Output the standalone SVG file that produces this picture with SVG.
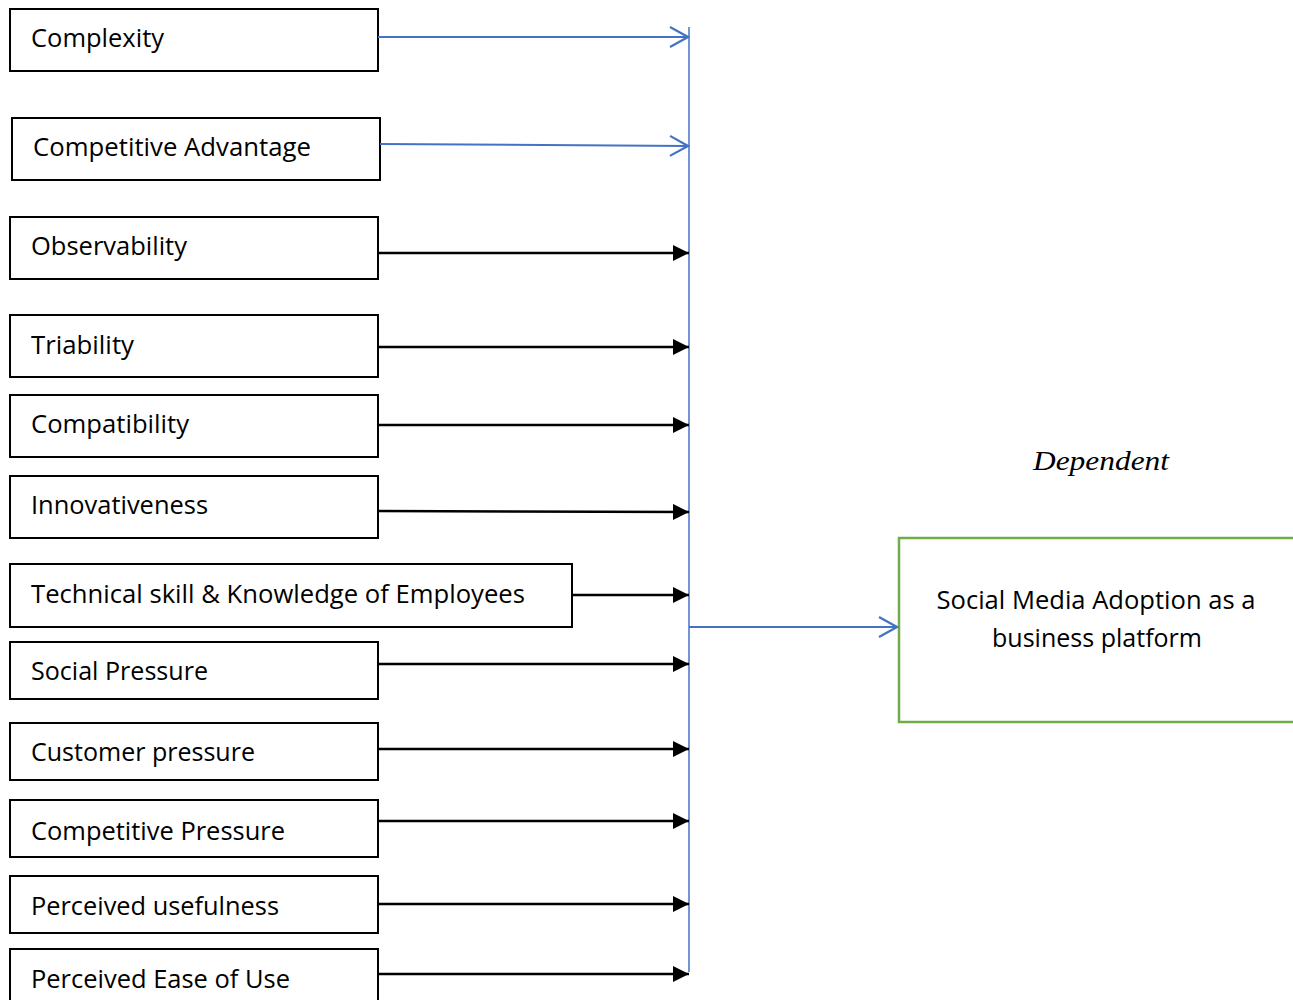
<svg xmlns="http://www.w3.org/2000/svg" width="1293" height="1000" viewBox="0 0 1293 1000">
<style>
.box{fill:#fff;stroke:#000;stroke-width:2}
.lbl{font-family:"Open Sans","Liberation Sans",sans-serif;font-size:25px;fill:#000}
.blk{stroke:#000;stroke-width:2.5;fill:none}
.blu{stroke:#4472C4;stroke-width:2;fill:none}
</style>
<defs>
<marker id="fa" markerUnits="userSpaceOnUse" markerWidth="16" markerHeight="16" refX="16" refY="8" orient="auto" viewBox="0 0 16 16">
<path d="M0,0 L16,8 L0,16 Z" fill="#000"/>
</marker>
<marker id="oa" markerUnits="userSpaceOnUse" markerWidth="22" markerHeight="24" refX="20" refY="12" orient="auto" viewBox="0 0 22 24">
<path d="M2,2 L20,12 L2,22" fill="none" stroke="#4472C4" stroke-width="2.2"/>
</marker>
</defs>
<rect width="1293" height="1000" fill="#fff"/>
<g id="n1"><rect class="box" x="10" y="9" width="368" height="62"/><text class="lbl" x="31" y="47" textLength="133" lengthAdjust="spacingAndGlyphs">Complexity</text></g>
<g id="n2"><rect class="box" x="12" y="118" width="368" height="62"/><text class="lbl" x="33" y="156" textLength="278" lengthAdjust="spacingAndGlyphs">Competitive Advantage</text></g>
<g id="n3"><rect class="box" x="10" y="217" width="368" height="62"/><text class="lbl" x="31" y="255" textLength="156" lengthAdjust="spacingAndGlyphs">Observability</text></g>
<g id="n4"><rect class="box" x="10" y="315" width="368" height="62"/><text class="lbl" x="31" y="354" textLength="103" lengthAdjust="spacingAndGlyphs">Triability</text></g>
<g id="n5"><rect class="box" x="10" y="395" width="368" height="62"/><text class="lbl" x="31" y="433" textLength="158" lengthAdjust="spacingAndGlyphs">Compatibility</text></g>
<g id="n6"><rect class="box" x="10" y="476" width="368" height="62"/><text class="lbl" x="31" y="514" textLength="177" lengthAdjust="spacingAndGlyphs">Innovativeness</text></g>
<g id="n7"><rect class="box" x="10" y="564" width="562" height="63"/><text class="lbl" x="31" y="603" textLength="494" lengthAdjust="spacingAndGlyphs">Technical skill &amp; Knowledge of Employees</text></g>
<g id="n8"><rect class="box" x="10" y="642" width="368" height="57"/><text class="lbl" x="31" y="680" textLength="177" lengthAdjust="spacingAndGlyphs">Social Pressure</text></g>
<g id="n9"><rect class="box" x="10" y="723" width="368" height="57"/><text class="lbl" x="31" y="761" textLength="224" lengthAdjust="spacingAndGlyphs">Customer pressure</text></g>
<g id="n10"><rect class="box" x="10" y="800" width="368" height="57"/><text class="lbl" x="31" y="840" textLength="254" lengthAdjust="spacingAndGlyphs">Competitive Pressure</text></g>
<g id="n11"><rect class="box" x="10" y="876" width="368" height="57"/><text class="lbl" x="31" y="915" textLength="248" lengthAdjust="spacingAndGlyphs">Perceived usefulness</text></g>
<g id="n12"><rect class="box" x="10" y="949" width="368" height="60"/><text class="lbl" x="31" y="988" textLength="259" lengthAdjust="spacingAndGlyphs">Perceived Ease of Use</text></g>
<g id="dep"><text x="1101" y="470" text-anchor="middle" font-family="'Liberation Serif',serif" font-style="italic" font-size="27" textLength="136" lengthAdjust="spacingAndGlyphs">Dependent</text></g>
<g id="target"><rect x="899" y="538" width="400" height="184" fill="#fff" stroke="#70AD47" stroke-width="2.5"/>
<text class="lbl" x="1096" y="609" text-anchor="middle" textLength="319" lengthAdjust="spacingAndGlyphs">Social Media Adoption as a</text>
<text class="lbl" x="1097" y="647" text-anchor="middle" textLength="210" lengthAdjust="spacingAndGlyphs">business platform</text></g>
<g id="connectors">
<line x1="689" y1="27" x2="689" y2="972" stroke="#4472C4" stroke-width="1.5"/>
<line class="blu" x1="378" y1="37" x2="688" y2="37" marker-end="url(#oa)"/>
<line class="blu" x1="380" y1="144" x2="688" y2="146" marker-end="url(#oa)"/>
<line class="blu" x1="689" y1="627" x2="897" y2="627" marker-end="url(#oa)"/>
<line class="blk" x1="378" y1="253" x2="689" y2="253" marker-end="url(#fa)"/>
<line class="blk" x1="378" y1="347" x2="689" y2="347" marker-end="url(#fa)"/>
<line class="blk" x1="378" y1="425" x2="689" y2="425" marker-end="url(#fa)"/>
<line class="blk" x1="378" y1="511" x2="689" y2="512" marker-end="url(#fa)"/>
<line class="blk" x1="572" y1="595" x2="689" y2="595" marker-end="url(#fa)"/>
<line class="blk" x1="378" y1="664" x2="689" y2="664" marker-end="url(#fa)"/>
<line class="blk" x1="378" y1="749" x2="689" y2="749" marker-end="url(#fa)"/>
<line class="blk" x1="378" y1="821" x2="689" y2="821" marker-end="url(#fa)"/>
<line class="blk" x1="378" y1="904" x2="689" y2="904" marker-end="url(#fa)"/>
<line class="blk" x1="378" y1="974" x2="689" y2="974" marker-end="url(#fa)"/>
</g>
</svg>
